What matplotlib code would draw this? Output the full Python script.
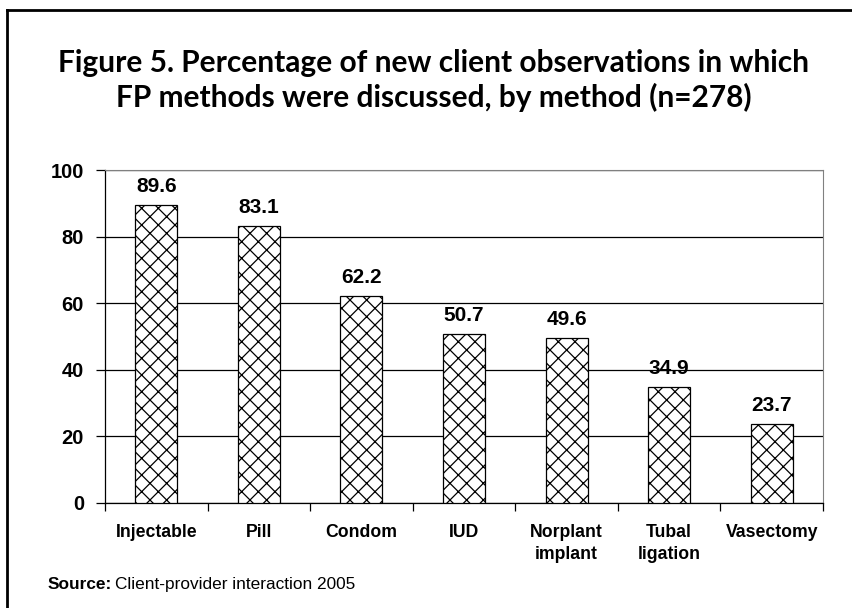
import matplotlib.pyplot as plt
import matplotlib as mpl
import numpy as np

# ----- Data -----
methods = ["Injectable", "Pill", "Condom", "IUD", "Norplant\nimplant", "Tubal\nligation", "Vasectomy"]
percent = [89.6, 83.1, 62.2, 50.7, 49.6, 34.9, 23.7]
y_ticks = [0, 20, 40, 60, 80, 100]

W, H = 853, 608
PT = 0.72  # points per pixel at dpi=100

mpl.rcParams['hatch.linewidth'] = 0.9

fig = plt.figure(figsize=(W / 100, H / 100), dpi=100)
ax = fig.add_axes([105 / W, 1 - 503 / H, (823 - 105) / W, (503 - 170) / H])

x = np.arange(len(methods))
ax.bar(x, percent, width=0.41, color='white', edgecolor='black', linewidth=0.9, hatch='xx', zorder=3)

# value labels above bars
for xi, v in zip(x, percent):
    ax.annotate(f"{v:.1f}", xy=(xi, v), xytext=(0, 13 * PT), textcoords='offset points',
                ha='center', va='baseline', fontsize=15, fontweight='bold', family='Liberation Sans')

ax.set_xlim(-0.5, len(methods) - 0.5)
ax.set_ylim(0, 100)
ax.set_yticks(y_ticks)
ax.set_yticklabels([str(t) for t in y_ticks], fontsize=14.5, fontweight='bold', family='Liberation Sans')
ax.yaxis.grid(True, color='black', linewidth=0.9, zorder=0)

# category labels centered, tick marks at boundaries
ax.set_xticks(np.arange(len(methods) + 1) - 0.5)
ax.set_xticklabels([])
ax.tick_params(axis='x', length=6, width=0.9, direction='out')
ax.tick_params(axis='y', length=6.5, width=0.9, direction='out', pad=8.6)
for xi, name in zip(x, methods):
    for k, line in enumerate(name.split("\n")):
        ax.annotate(line, xy=(xi, 0), xycoords=ax.get_xaxis_transform(),
                    xytext=(0, -(34 + 22 * k) * PT), textcoords='offset points',
                    ha='center', va='baseline', fontsize=12.7, fontweight='bold',
                    family='Liberation Sans')

for side in ['top', 'right']:
    ax.spines[side].set_color('#808080')
for side in ['left', 'bottom']:
    ax.spines[side].set_color('black')
    ax.spines[side].set_linewidth(0.9)

# title
title_lines = ["Figure 5. Percentage of new client observations in which",
               "FP methods were discussed, by method (n=278)"]
for line, base in zip(title_lines, [72, 107]):
    fig.text(434 / W, 1 - base / H, line, ha='center', va='baseline',
             fontsize=21.5, fontweight='bold', family='Lato')

# source note
fig.text(48 / W, 1 - 589 / H, "Source:", fontsize=12.4, fontweight='bold',
         family='Liberation Sans', va='baseline')
fig.text(115 / W, 1 - 589 / H, "Client-provider interaction 2005", fontsize=12.4,
         family='Liberation Sans', va='baseline')

# outer frame (left and top edges)
fig.add_artist(plt.Line2D([7 / W, 7 / W], [0, 1 - 10 / H], color='black', linewidth=2,
                          transform=fig.transFigure))
fig.add_artist(plt.Line2D([7 / W, 1], [1 - 10 / H, 1 - 10 / H], color='black', linewidth=2,
                          transform=fig.transFigure))

fig.savefig("out.png", dpi=100)
